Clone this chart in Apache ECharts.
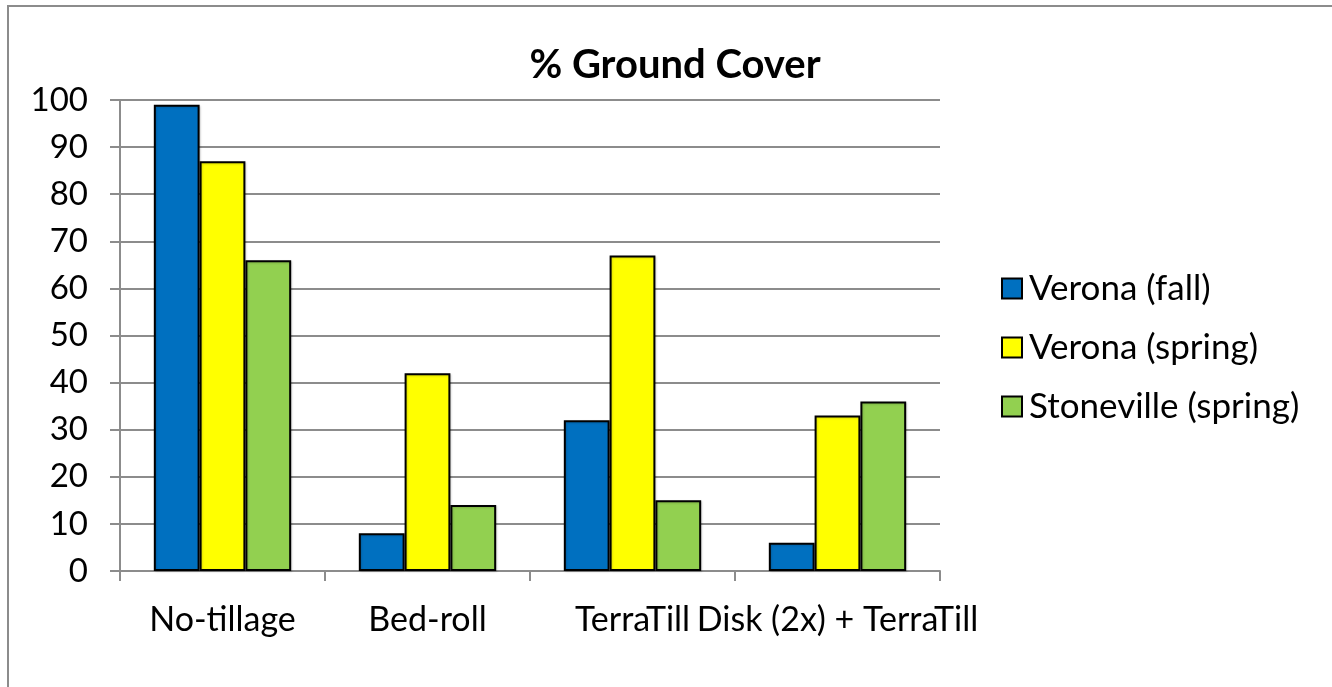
<!DOCTYPE html>
<html>
<head>
<meta charset="utf-8">
<script src="https://cdn.jsdelivr.net/npm/echarts@6/dist/echarts.min.js"></script>
<style>
  html, body { margin: 0; padding: 0; background: #fff; }
  #chart { width: 1332px; height: 687px; }
</style>
</head>
<body>
<div id="chart"></div>
<script>
const categories = ['No-tillage', 'Bed-roll', 'TerraTill', 'Disk (2x) + TerraTill'];
const seriesNames = ['Verona (fall)', 'Verona (spring)', 'Stoneville (spring)'];
const veronaFall = [99, 8, 32, 6];
const veronaSpring = [87, 42, 67, 33];
const stonevilleSpring = [66, 14, 15, 36];
const yTicks = [0, 10, 20, 30, 40, 50, 60, 70, 80, 90, 100];

const colors = ['#0070C0', '#FFFF00', '#92D050'];
const FONT = 'Lato';

const chart = echarts.init(document.getElementById('chart'), null, { renderer: 'canvas' });

function barSeries(name, data, color) {
  return {
    name: name,
    type: 'bar',
    data: data,
    barGap: '0%',
    barCategoryGap: '33%',
    itemStyle: {
      color: color,
      borderColor: '#000',
      borderWidth: 2,
      shadowColor: 'rgba(0,0,0,0.15)',
      shadowBlur: 2,
      shadowOffsetX: 1,
      shadowOffsetY: 1
    },
    emphasis: { disabled: true },
    animation: false
  };
}

chart.setOption({
  animation: false,
  backgroundColor: '#fff',
  graphic: [{
    type: 'rect',
    shape: { x: 8, y: 6, width: 1500, height: 900 },
    style: { fill: 'none', stroke: '#8c8c8c', lineWidth: 2 },
    silent: true
  }],
  title: {
    text: '% Ground Cover',
    left: 670,
    top: 40,
    textAlign: 'center',
    textStyle: { fontFamily: FONT, fontWeight: 'bold', fontSize: 40, color: '#000' }
  },
  legend: {
    orient: 'vertical',
    left: 996,
    top: 266,
    itemWidth: 20,
    itemHeight: 20,
    itemGap: 24,
    icon: 'rect',
    itemStyle: { borderColor: '#000', borderWidth: 2 },
    textStyle: { fontFamily: FONT, fontSize: 35, color: '#000', lineHeight: 35, padding: [0, 0, 0, 2] },
    data: seriesNames
  },
  grid: { left: 120, right: 392, top: 100, bottom: 116, containLabel: false },
  xAxis: {
    type: 'category',
    data: categories,
    axisLine: { lineStyle: { color: '#8c8c8c', width: 2 } },
    axisTick: { show: true, alignWithLabel: false, length: 10, lineStyle: { color: '#8c8c8c', width: 2 } },
    axisLabel: { interval: 0, margin: 32, fontFamily: FONT, fontSize: 34, color: '#000', hideOverlap: false }
  },
  yAxis: {
    type: 'value',
    min: yTicks[0],
    max: yTicks[yTicks.length - 1],
    interval: 10,
    axisLine: { show: true, lineStyle: { color: '#8c8c8c', width: 2 } },
    axisTick: { show: true, length: 10, lineStyle: { color: '#8c8c8c', width: 2 } },
    splitLine: { show: true, lineStyle: { color: '#8c8c8c', width: 2 } },
    axisLabel: { margin: 32, fontFamily: FONT, fontSize: 33, color: '#000' }
  },
  series: [
    barSeries(seriesNames[0], veronaFall, colors[0]),
    barSeries(seriesNames[1], veronaSpring, colors[1]),
    barSeries(seriesNames[2], stonevilleSpring, colors[2])
  ]
});
</script>
</body>
</html>
